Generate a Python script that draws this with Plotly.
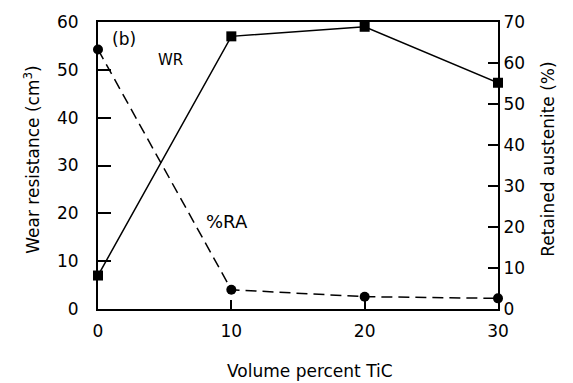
import plotly.graph_objects as go

# Data
tic_volume = [0, 10, 20, 30]
wear_resistance = [7.0, 57.0, 59.0, 47.3]      # left axis, cm^3
retained_austenite = [63.3, 4.7, 3.0, 2.6]     # right axis, %

x_ticks = [0, 10, 20, 30]
left_ticks = [0, 10, 20, 30, 40, 50, 60]
right_ticks = [0, 10, 20, 30, 40, 50, 60, 70]

FONT = "DejaVu Sans"
fs = 17

fig = go.Figure()
fig.add_trace(go.Scatter(
    x=tic_volume, y=wear_resistance, mode="lines+markers",
    line=dict(color="black", width=1.5),
    marker=dict(symbol="square", size=10, color="black"),
    yaxis="y", cliponaxis=False, showlegend=False))
fig.add_trace(go.Scatter(
    x=tic_volume, y=retained_austenite, mode="lines+markers",
    line=dict(color="black", width=1.5, dash="11px,6px"),
    marker=dict(symbol="circle", size=10, color="black"),
    yaxis="y2", cliponaxis=False, showlegend=False))

fig.update_layout(
    width=573, height=383,
    margin=dict(l=98, r=75, t=16, b=74),
    paper_bgcolor="white", plot_bgcolor="white",
    font=dict(family=FONT, size=fs, color="black"),
    xaxis=dict(range=[0, 30], tickvals=x_ticks, ticks="inside", ticklen=9,
               tickwidth=1.5, tickcolor="black", showline=True, linewidth=2,
               linecolor="black", mirror=True, showgrid=False, zeroline=False,
               ticklabelstandoff=6),
    yaxis=dict(range=[0, 60], tickvals=left_ticks, ticks="inside", ticklen=13,
               tickwidth=1.5, tickcolor="black", showline=True, linewidth=2,
               linecolor="black", showgrid=False, zeroline=False,
               ticklabelstandoff=14),
    yaxis2=dict(range=[0, 70], tickvals=right_ticks, ticks="inside", ticklen=10,
                tickwidth=1.5, tickcolor="black", showline=True, linewidth=2,
                linecolor="black", overlaying="y", side="right",
                showgrid=False, zeroline=False, ticklabelstandoff=0),
    annotations=[
        dict(text="Volume percent TiC", xref="paper", yref="paper",
             x=0.53, y=-0.215, showarrow=False, xanchor="center", yanchor="middle"),
        dict(text="Wear resistance (cm<sup>3</sup>)", xref="paper", yref="paper",
             x=-0.165, y=0.52, textangle=-90, showarrow=False,
             xanchor="center", yanchor="middle"),
        dict(text="Retained austenite (%)", xref="paper", yref="paper",
             x=1.125, y=0.52, textangle=-90, showarrow=False,
             xanchor="center", yanchor="middle"),
        dict(text="(b)", xref="x", yref="y", x=1.95, y=56.5, showarrow=False),
        dict(text="WR", xref="x", yref="y", x=5.4, y=52, showarrow=False,
             font=dict(size=15)),
        dict(text="%RA", xref="x", yref="y", x=9.7, y=18.2, showarrow=False,
             font=dict(size=18)),
    ],
)

fig.write_html("out.html")
